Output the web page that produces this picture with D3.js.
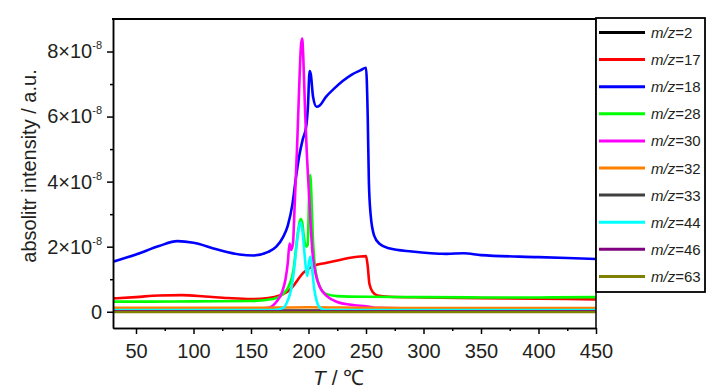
<!DOCTYPE html>
<html>
<head>
<meta charset="utf-8">
<script src="https://cdnjs.cloudflare.com/ajax/libs/d3/7.8.5/d3.min.js"></script>
<style>
body{margin:0;background:#fff;}
svg{font-family:"Liberation Sans",Arial,sans-serif;}
</style>
</head>
<body>
<div id="chart"></div>
<script>
// series names + colours (legend order = draw order)
var mzLabels = ["2","17","18","28","30","32","33","44","46","63"];
var mzColors = ["#000000","#ff0000","#0000ff","#00ff00","#ff00ff","#ff8000","#404040","#00ffff","#800080","#808000"];

// [T in C, intensity in 1e-8 a.u.]
var mz2  = [[30,0.02],[200,0.02],[450,0.02]];
var mz17 = [[30,0.41],[50,0.45],[70,0.5],[90,0.51],[110,0.47],[130,0.42],[150,0.39],[165,0.42],[175,0.5],[182,0.62],[187,0.8],[191,1.0],[195,1.18],[199,1.3],[203,1.38],[208,1.45],[215,1.5],[222,1.55],[235,1.65],[245,1.7],[250,1.71],[251.5,1.4],[253,0.85],[256,0.6],[260,0.5],[270,0.46],[300,0.44],[350,0.42],[400,0.4],[450,0.38]];
var mz18 = [[30,1.54],[50,1.76],[70,2.02],[86,2.17],[100,2.12],[120,1.92],[140,1.76],[152,1.73],[165,1.84],[172,2.0],[178,2.3],[182,2.65],[186,3.3],[189,4.1],[192,4.8],[195,5.3],[198,5.7],[199.5,6.3],[201,7.4],[202,7.3],[204,6.6],[207,6.3],[210,6.35],[215,6.6],[222,6.85],[230,7.1],[238,7.3],[245,7.42],[250,7.5],[251.5,6.0],[252.5,4.0],[254,3.0],[257,2.35],[262,2.08],[270,1.95],[290,1.85],[320,1.78],[335,1.8],[350,1.74],[400,1.68],[450,1.62]];
var mz28 = [[30,0.31],[60,0.31],[100,0.32],[150,0.33],[170,0.4],[178,0.55],[183,0.8],[187,1.3],[189,1.9],[191,2.5],[193,2.85],[194.5,2.75],[196,2.3],[198,2.0],[199.3,2.05],[200.5,3.5],[201.5,4.2],[202.5,3.6],[203.5,2.5],[205,1.6],[207,1.1],[210,0.75],[215,0.55],[225,0.48],[250,0.46],[300,0.45],[350,0.44],[400,0.44],[450,0.45]];
var mz30 = [[30,0.08],[150,0.08],[165,0.12],[172,0.3],[177,0.6],[180,1.0],[182,1.5],[183.5,2.1],[185,1.9],[186.5,2.1],[188,3.3],[190,5.0],[192,7.0],[193.5,8.2],[194.5,8.4],[195.5,7.8],[197,6.2],[198.5,4.9],[200,3.9],[201.5,2.9],[203.5,1.8],[206,1.2],[210,0.75],[216,0.48],[225,0.3],[240,0.2],[250,0.17],[260,0.12],[300,0.1],[450,0.1]];
var mz32 = [[30,0.12],[150,0.12],[200,0.14],[250,0.12],[300,0.11],[450,0.11]];
var mz33 = [[30,0.04],[200,0.04],[450,0.04]];
var mz44 = [[30,0.05],[170,0.05],[178,0.12],[182,0.35],[185,0.7],[187.5,1.3],[189.5,2.0],[191.5,2.55],[193.3,2.75],[195,2.4],[196.5,1.8],[198,1.25],[199,1.1],[200.3,1.5],[201.6,1.7],[203,1.35],[205,0.7],[207,0.35],[210,0.12],[215,0.05],[450,0.05]];
var mz46 = [[30,0.01],[200,0.01],[450,0.01]];
var mz63 = [[30,-0.01],[200,-0.01],[450,-0.01]];
var allSeries = [mz2,mz17,mz18,mz28,mz30,mz32,mz33,mz44,mz46,mz63];

var xTicks = [50,100,150,200,250,300,350,400,450];
var xMinor = [75,125,175,225,275,325,375,425];
var yTicks = [0,2,4,6,8];
var yMinor = [1,3,5,7];

var w=726,h=390;
var svg=d3.select("#chart").append("svg")
.attr("width",w)
.attr("height",h);

var x=d3.scaleLinear().domain([30,450]).range([113,596]);
var y=d3.scaleLinear().domain([-0.5,9]).range([328,19]);

svg.append("clipPath").attr("id","clip")
.append("rect").attr("x",113).attr("y",19).attr("width",483).attr("height",309);

// lines
var line=d3.line()
.x(function(d){return x(d[0]);})
.y(function(d){return y(d[1]);})
.curve(d3.curveMonotoneX);

var plot=svg.append("g").attr("clip-path","url(#clip)");
allSeries.forEach(function(s,i){
	plot.append("path")
	.attr("d",line(s))
	.attr("fill","none")
	.attr("stroke",mzColors[i])
	.attr("stroke-width",2.6)
	.attr("stroke-linejoin","round");
});

// x axis
var xAxis=svg.append("g")
.attr("transform","translate(0,328)")
.call(d3.axisBottom(x).tickValues(xTicks).tickSize(6).tickSizeOuter(0).tickPadding(10));
svg.append("g")
.attr("transform","translate(0,328)")
.call(d3.axisBottom(x).tickValues(xMinor).tickSize(3).tickSizeOuter(0).tickFormat(""));

// y axis
var yAxis=svg.append("g")
.attr("transform","translate(113,0)")
.call(d3.axisLeft(y).tickValues(yTicks).tickSize(6).tickSizeOuter(0).tickPadding(5));
svg.append("g")
.attr("transform","translate(113,0)")
.call(d3.axisLeft(y).tickValues(yMinor).tickSize(3).tickSizeOuter(0).tickFormat(""));

yAxis.selectAll(".tick text").each(function(d){
	var t=d3.select(this);
	if(d===0) return;
	t.text(null);
	t.append("tspan").text(d+"\u00d710");
	t.append("tspan").attr("font-size",11).attr("dy",-9).text("-8");
});

svg.selectAll(".domain, .tick line").attr("stroke","#000").attr("stroke-width",1.5);
svg.selectAll(".tick text").attr("font-size",20).attr("fill","#231f20")
.attr("font-family","'Liberation Sans',Arial,sans-serif");

// frame top / right
svg.append("line").attr("x1",112).attr("x2",597).attr("y1",19).attr("y2",19)
.attr("stroke","#000").attr("stroke-width",2);
svg.append("line").attr("x1",596).attr("x2",596).attr("y1",19).attr("y2",328)
.attr("stroke","#000").attr("stroke-width",1.5);

// axis titles
svg.append("text")
.attr("transform","translate(36,166) rotate(-90)")
.attr("text-anchor","middle")
.attr("font-size",20)
.attr("fill","#231f20")
.text("absolitr intensity / a.u.");

var xt=svg.append("text")
.attr("x",313).attr("y",385)
.attr("font-size",21)
.attr("fill","#231f20");
xt.append("tspan").attr("font-style","italic").text("T");
xt.append("tspan").text(" / \u2103");

// legend
var legend=svg.append("g");
legend.append("rect")
.attr("x",596).attr("y",18).attr("width",109).attr("height",274)
.attr("fill","#fff").attr("stroke","#000").attr("stroke-width",1.8);

mzLabels.forEach(function(lab,i){
	var ly=32.5+i*27.1;
	legend.append("line")
	.attr("x1",599).attr("x2",645).attr("y1",ly).attr("y2",ly)
	.attr("stroke",mzColors[i]).attr("stroke-width",3);
	var t=legend.append("text")
	.attr("x",651).attr("y",ly+5.5)
	.attr("font-size",15)
	.attr("fill","#231f20");
	t.append("tspan").attr("font-style","italic").text("m/z");
	t.append("tspan").text("="+lab);
});
</script>
</body>
</html>
